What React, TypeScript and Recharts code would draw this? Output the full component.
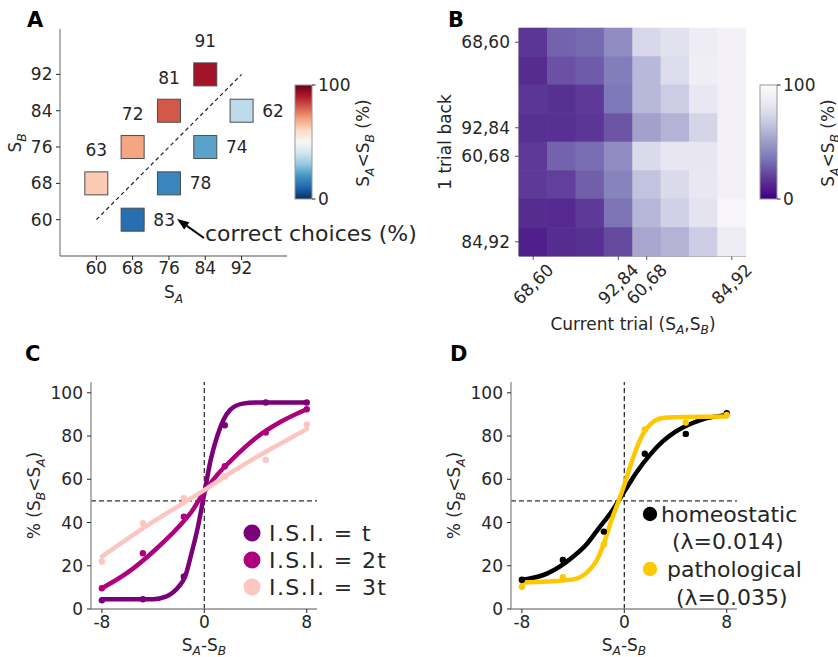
import React from 'react';
import {
  ScatterChart,
  Scatter,
  ComposedChart,
  Line,
  BarChart,
  Bar,
  XAxis,
  YAxis,
  ReferenceLine,
  Legend,
} from 'recharts';

const FONT = '"DejaVu Sans", Verdana, sans-serif';
const INK = '#262626';
const SPINE = '#8c8c8c';

// ---- A: choice per stimulus pair ----
const pairSA = [60, 68, 76, 84, 68, 76, 84, 92];
const pairSB = [68, 76, 84, 92, 60, 68, 76, 84];
const correctPct = [63, 72, 81, 91, 83, 78, 74, 62];
const aLessBPct = [63, 70, 81, 92, 12, 17, 23, 37];
const stimTicks = [60, 68, 76, 84, 92];

// ---- B: current trial vs 1 trial back ----
const pairLabels = ['68,60', '76,68', '84,76', '92,84', '60,68', '68,76', '76,84', '84,92'];
const pairTickIdx = [0, 3, 4, 7];
const back0 = [17, 30, 32, 44, 74, 80, 87, 91];
const back1 = [14, 25, 28, 38, 61, 76, 88, 91];
const back2 = [17, 15, 18, 36, 61, 69, 84, 91];
const back3 = [15, 15, 17, 26, 52, 59, 73, 91];
const back4 = [18, 30, 33, 44, 75, 83, 83, 91];
const back5 = [18, 20, 29, 40, 65, 75, 84, 91];
const back6 = [14, 13, 18, 35, 60, 71, 81, 95];
const back7 = [10, 14, 15, 23, 54, 59, 69, 87];
const backRows = [back0, back1, back2, back3, back4, back5, back6, back7];

// ---- C: inter-stimulus interval ----
const diffX = [-8, -4.8, -1.6, 1.6, 4.8, 8];
const isiNames = ['I.S.I. = t', 'I.S.I. = 2t', 'I.S.I. = 3t'];
const isiT = [4, 4.5, 15, 85, 95.5, 95.5];
const isi2T = [9.6, 25.8, 42.7, 66, 81.6, 92.4];
const isi3T = [22, 39.7, 51.2, 61.3, 69, 85.2];
const fitXT = [-8, -4, -3, -2, -1.5, -1, -0.5, 0, 0.5, 1, 1.5, 2, 3, 4, 8];
const fitYT = [4.5, 4.5, 5.7, 10.3, 15, 25.8, 38, 53.5, 69, 79.8, 87.5, 92, 95, 95.5, 95.5];
const fitX2T = [-8, -6, -4, -2, -1, 0, 1, 2, 4, 6, 8];
const fitY2T = [9.6, 16.8, 26.5, 38, 45, 54.3, 62, 68.2, 79, 86.7, 92.4];
const fitX3T = [-8, -4, -2, 0, 2, 4, 6, 8];
const fitY3T = [24.2, 40.4, 47.7, 55, 62.8, 70, 76.7, 83.2];

// ---- D: homeostatic vs pathological ----
const homeoPts = [13.5, 22.7, 35.8, 71.8, 81, 90.6];
const pathoPts = [10.3, 14.7, 30, 83, 86.3, 89.8];
const fitXHomeo = [-8, -6, -4, -3, -2, -1, 0, 1, 2, 3, 4, 6, 8];
const fitYHomeo = [13.4, 16.5, 24.2, 29.6, 37.3, 45, 54.3, 63.6, 71.3, 77.5, 82, 87.5, 89.8];
const fitXPatho = [-8, -6, -4, -3, -2, -1.5, -1, -0.5, 0, 0.5, 1, 1.5, 2, 3, 4, 8];
const fitYPatho = [12.3, 12.7, 13.7, 16.5, 24.2, 32, 41.2, 49, 57.4, 66.7, 75, 81.3, 85.2, 88.3, 88.7, 89];
const lambdaNames = ['homeostatic', 'pathological'];
const lambdaValues = ['(λ=0.014)', '(λ=0.035)'];

const isiColors = ['#7a0177', '#ae017e', '#fcc5c0'];
const lambdaColors = ['#000000', '#fdc800'];

const RDBU_R = ['#053061', '#2166ac', '#4393c3', '#92c5de', '#d1e5f0', '#f7f7f7', '#fddbc7', '#f4a582', '#d6604d', '#b2182b', '#67001f'];
const PURPLES = ['#fcfbfd', '#efedf5', '#dadaeb', '#bcbddc', '#9e9ac8', '#807dba', '#6a51a3', '#54278f', '#3f007d'];

function lerpHex(a: string, b: string, f: number) {
  const pa = [1, 3, 5].map((i) => parseInt(a.slice(i, i + 2), 16));
  const pb = [1, 3, 5].map((i) => parseInt(b.slice(i, i + 2), 16));
  return '#' + pa.map((v, k) => Math.round(v + (pb[k] - v) * f).toString(16).padStart(2, '0')).join('');
}

function colormap(stops: string[], t: number) {
  const c = Math.min(1, Math.max(0, t)) * (stops.length - 1);
  const i = Math.min(stops.length - 2, Math.floor(c));
  return lerpHex(stops[i], stops[i + 1], c - i);
}

const rdbu = (v: number) => colormap(RDBU_R, v / 100);
const purples = (v: number) => colormap(PURPLES, 1 - v / 100);

// '_X' marks a subscript
function RichText({ x, y, parts, size = 17, rotate = 0, anchor = 'middle' }: any) {
  let low = false;
  const shift = size * 0.28;
  return (
    <text
      x={x}
      y={y}
      textAnchor={anchor}
      fontSize={size}
      fill={INK}
      fontFamily={FONT}
      transform={rotate ? `rotate(${rotate} ${x} ${y})` : undefined}
    >
      {parts.map((p: string, i: number) => {
        const sub = p.startsWith('_');
        let dy = 0;
        if (sub !== low) {
          dy = sub ? shift : -shift;
          low = sub;
        }
        return (
          <tspan key={i} dy={dy} fontSize={sub ? size * 0.72 : size} fontStyle={sub ? 'italic' : 'normal'}>
            {sub ? p.slice(1) : p}
          </tspan>
        );
      })}
    </text>
  );
}

const tickFont = { fontSize: 17, fill: INK, fontFamily: FONT };

function Square(props: any) {
  const { cx, cy, payload } = props;
  const s = 23;
  const above = payload.sb > payload.sa;
  return (
    <g>
      <rect x={cx - s / 2} y={cy - s / 2} width={s} height={s} fill={rdbu(payload.pct)} stroke="#4d4d4d" strokeWidth={1} />
      <text
        x={above ? cx : cx + 31.5}
        y={above ? cy - 33 : cy}
        textAnchor="middle"
        dominantBaseline="central"
        {...tickFont}
      >
        {payload.correct}
      </text>
    </g>
  );
}

function PanelA() {
  const squares = pairSA.map((sa, i) => ({ sa, sb: pairSB[i], correct: correctPct[i], pct: aLessBPct[i] }));
  return (
    <div style={{ position: 'absolute', left: 0, top: 0 }}>
      <ScatterChart width={430} height={320} margin={{ top: 29, right: 143, bottom: 14, left: 0 }}>
        <XAxis
          type="number"
          dataKey="sa"
          domain={[52, 102]}
          ticks={stimTicks}
          interval={0}
          height={50}
          tick={tickFont}
          tickSize={4}
          tickMargin={2}
          tickLine={{ stroke: INK }}
          axisLine={{ stroke: SPINE, strokeWidth: 1.3 }}
          label={{ content: () => <RichText x={173.5} y={298} parts={['S', '_A']} /> }}
        />
        <YAxis
          type="number"
          dataKey="sb"
          domain={[52, 102]}
          ticks={stimTicks}
          interval={0}
          width={60}
          tick={tickFont}
          tickSize={4}
          tickMargin={3.5}
          tickLine={{ stroke: INK }}
          axisLine={{ stroke: SPINE, strokeWidth: 1.3 }}
          label={{ content: () => <RichText x={21} y={143} rotate={-90} parts={['S', '_B']} /> }}
        />
        <ReferenceLine
          segment={[{ x: 60, y: 60 }, { x: 92, y: 92 }]}
          stroke="#222"
          strokeWidth={1.2}
          strokeDasharray="4 3"
        />
        <Scatter data={squares} shape={(p: any) => <Square {...p} />} isAnimationActive={false} />
      </ScatterChart>
    </div>
  );
}

function GradientBar(props: any) {
  const { x, y, width, height, gid, stops } = props;
  return (
    <g>
      <defs>
        <linearGradient id={gid} x1="0" y1="1" x2="0" y2="0">
          {stops.map((c: string, i: number) => (
            <stop key={i} offset={i / (stops.length - 1)} stopColor={c} />
          ))}
        </linearGradient>
      </defs>
      <rect x={x} y={y} width={width} height={height} fill={`url(#${gid})`} stroke="#9a9a9a" strokeWidth={1} />
    </g>
  );
}

function Colorbar({ left, width, gid, stops }: any) {
  return (
    <div style={{ position: 'absolute', left, top: 70 }}>
      <BarChart
        width={width}
        height={150}
        data={[{ k: 'cb', v: 100 }]}
        margin={{ top: 15, right: width - 15 - 17 - 40, bottom: 21, left: 15 }}
        barCategoryGap={0}
      >
        <XAxis dataKey="k" hide />
        <YAxis
          orientation="right"
          type="number"
          domain={[0, 100]}
          ticks={[0, 100]}
          interval={0}
          width={40}
          tick={tickFont}
          tickSize={3.5}
          tickMargin={2.5}
          tickLine={{ stroke: INK }}
          axisLine={false}
          label={{
            content: () => (
              <RichText x={89} y={73} rotate={-90} parts={['S', '_A', '<S', '_B', ' (%)']} />
            ),
          }}
        />
        <Bar
          dataKey="v"
          isAnimationActive={false}
          shape={(p: any) => <GradientBar {...p} gid={gid} stops={stops} />}
        />
      </BarChart>
    </div>
  );
}

function HeatCell(props: any) {
  const { cx, cy, payload } = props;
  const w = 227 / 8 + 0.6;
  const h = 228 / 8 + 0.6;
  return <rect x={cx - w / 2} y={cy - h / 2} width={w} height={h} fill={purples(payload.v)} />;
}

function PairTickX(props: any) {
  const { x, y, payload } = props;
  const cy = y + 22;
  return (
    <text
      x={x}
      y={cy}
      textAnchor="middle"
      dominantBaseline="central"
      transform={`rotate(-45 ${x} ${cy})`}
      {...tickFont}
    >
      {pairLabels[payload.value]}
    </text>
  );
}

function PanelB() {
  const cells = backRows.flatMap((row, r) => row.map((v, c) => ({ col: c, row: r, v })));
  return (
    <div style={{ position: 'absolute', left: 430, top: 0 }}>
      <ScatterChart width={408} height={340} margin={{ top: 28, right: 92, bottom: 0, left: 0 }}>
        <XAxis
          type="number"
          dataKey="col"
          domain={[-0.5, 7.5]}
          ticks={pairTickIdx}
          interval={0}
          height={84}
          tick={(p: any) => <PairTickX {...p} />}
          tickSize={4}
          tickMargin={2}
          tickLine={{ stroke: '#555' }}
          axisLine={{ stroke: SPINE, strokeWidth: 1.3 }}
          label={{
            content: () => <RichText x={203} y={329.5} parts={['Current trial (S', '_A', ',S', '_B', ')']} />,
          }}
        />
        <YAxis
          type="number"
          dataKey="row"
          domain={[-0.5, 7.5]}
          reversed
          ticks={pairTickIdx}
          interval={0}
          width={89}
          tick={tickFont}
          tickFormatter={(i: number) => pairLabels[i]}
          tickSize={4}
          tickMargin={5}
          tickLine={{ stroke: '#555' }}
          axisLine={{ stroke: SPINE, strokeWidth: 1.3 }}
          label={{ content: () => <RichText x={21} y={142} rotate={-90} parts={['1 trial back']} /> }}
        />
        <Scatter data={cells} shape={(p: any) => <HeatCell {...p} />} isAnimationActive={false} />
        <ReferenceLine x={3.5} stroke="#111" strokeWidth={2} />
        <ReferenceLine y={3.5} stroke="#111" strokeWidth={2} />
      </ScatterChart>
    </div>
  );
}

function Dot(props: any) {
  const { cx, cy, color } = props;
  return <circle cx={cx} cy={cy} r={3.2} fill={color} />;
}

function LegendC() {
  return (
    <svg width={185} height={90} style={{ display: 'block' }}>
      {isiNames.map((n, i) => (
        <g key={n}>
          <circle cx={12} cy={16 + i * 27} r={8.5} fill={isiColors[i]} />
          <text
            x={29}
            y={16 + i * 27}
            dominantBaseline="central"
            fontSize={22}
            letterSpacing={1.4}
            fill={INK}
            fontFamily={FONT}
          >
            {n}
          </text>
        </g>
      ))}
    </svg>
  );
}

function LegendD() {
  const rows = [
    { cy: 16, nx: 23, vx: 34, vy: 43 },
    { cy: 71, nx: 29, vx: 38, vy: 99 },
  ];
  return (
    <svg width={200} height={115} style={{ display: 'block' }}>
      {lambdaNames.map((n, i) => (
        <g key={n}>
          <circle cx={12} cy={rows[i].cy} r={7.2} fill={lambdaColors[i]} />
          <text x={rows[i].nx} y={rows[i].cy} dominantBaseline="central" fontSize={22} fill={INK} fontFamily={FONT}>
            {n}
          </text>
          <text x={rows[i].vx} y={rows[i].vy} dominantBaseline="central" fontSize={22} fill={INK} fontFamily={FONT}>
            {lambdaValues[i]}
          </text>
        </g>
      ))}
    </svg>
  );
}

function Psycho({ left, width, right, curves, legend, legendBox }: any) {
  return (
    <div style={{ position: 'absolute', left, top: 330 }}>
      <ComposedChart width={width} height={327} margin={{ top: 52, right, bottom: 0, left: 0 }}>
        <XAxis
          type="number"
          dataKey="x"
          domain={[-8.85, 8.8]}
          ticks={[-8, 0, 8]}
          interval={0}
          height={48}
          tick={tickFont}
          tickSize={4}
          tickMargin={3}
          tickLine={{ stroke: INK }}
          axisLine={{ stroke: SPINE, strokeWidth: 1.3 }}
          label={{ content: () => <RichText x={204} y={650.5 - 330} parts={['S', '_A', '-S', '_B']} /> }}
        />
        <YAxis
          type="number"
          dataKey="y"
          domain={[0, 105]}
          ticks={[0, 20, 40, 60, 80, 100]}
          interval={0}
          width={91}
          tick={tickFont}
          tickSize={4}
          tickMargin={4}
          tickLine={{ stroke: INK }}
          axisLine={{ stroke: SPINE, strokeWidth: 1.3 }}
          label={{
            content: () => (
              <RichText x={40} y={165.5} rotate={-90} parts={['% (S', '_B', '<S', '_A', ')']} />
            ),
          }}
        />
        <ReferenceLine y={50} stroke="#333" strokeWidth={1.3} strokeDasharray="5 3" />
        <ReferenceLine x={0} stroke="#333" strokeWidth={1.3} strokeDasharray="5 3" />
        {curves.map((c: any) => (
          <Scatter
            key={'pts-' + c.name}
            data={diffX.map((x, i) => ({ x, y: c.pts[i] }))}
            shape={(p: any) => <Dot {...p} color={c.color} />}
            isAnimationActive={false}
          />
        ))}
        {curves.map((c: any) => (
          <Line
            key={'fit-' + c.name}
            data={c.fx.map((x: number, i: number) => ({ x, y: c.fy[i] }))}
            dataKey="y"
            type="monotone"
            stroke={c.color}
            strokeWidth={4.5}
            strokeLinecap="round"
            dot={false}
            activeDot={false}
            isAnimationActive={false}
          />
        ))}
        <Legend
          layout="horizontal"
          verticalAlign="middle"
          align="center"
          wrapperStyle={legendBox}
          content={() => legend}
        />
      </ComposedChart>
    </div>
  );
}

export default function App() {
  const isiCurves = [
    { name: 't', color: isiColors[0], pts: isiT, fx: fitXT, fy: fitYT },
    { name: '2t', color: isiColors[1], pts: isi2T, fx: fitX2T, fy: fitY2T },
    { name: '3t', color: isiColors[2], pts: isi3T, fx: fitX3T, fy: fitY3T },
  ];
  const lambdaCurves = [
    { name: 'homeo', color: lambdaColors[0], pts: homeoPts, fx: fitXHomeo, fy: fitYHomeo },
    { name: 'patho', color: lambdaColors[1], pts: pathoPts, fx: fitXPatho, fy: fitYPatho },
  ];
  const arrowTip = [177, 219];
  const arrowTail = [204, 238];
  const dx = arrowTail[0] - arrowTip[0];
  const dy = arrowTail[1] - arrowTip[1];
  const len = Math.hypot(dx, dy);
  const ux = dx / len;
  const uy = dy / len;
  const bx = arrowTip[0] + 12 * ux;
  const by = arrowTip[1] + 12 * uy;
  const head = `${arrowTip[0]},${arrowTip[1]} ${bx - 4.5 * uy},${by + 4.5 * ux} ${bx + 4.5 * uy},${by - 4.5 * ux}`;

  return (
    <div
      style={{
        position: 'absolute',
        left: 0,
        top: 0,
        width: 838,
        height: 657,
        overflow: 'hidden',
        background: '#fff',
        fontFamily: FONT,
      }}
    >
      <PanelA />
      <PanelB />
      <Colorbar left={280} width={110} gid="cbA" stops={RDBU_R} />
      <Colorbar left={745} width={93} gid="cbB" stops={[...PURPLES].reverse()} />
      <Psycho
        left={0}
        width={420}
        right={103}
        curves={isiCurves}
        legend={<LegendC />}
        legendBox={{ left: 240, top: 187, width: 185, height: 90 }}
      />
      <Psycho
        left={420}
        width={418}
        right={101}
        curves={lambdaCurves}
        legend={<LegendD />}
        legendBox={{ left: 218, top: 168, width: 200, height: 115 }}
      />
      <svg width={838} height={657} style={{ position: 'absolute', left: 0, top: 0, pointerEvents: 'none' }}>
        <text x={205} y={241} fontSize={22} fill={INK} fontFamily={FONT}>
          correct choices (%)
        </text>
        <line x1={bx} y1={by} x2={arrowTail[0]} y2={arrowTail[1]} stroke="#000" strokeWidth={2} />
        <polygon points={head} fill="#000" />
        {[
          ['A', 27, 27],
          ['B', 448, 27],
          ['C', 25, 361],
          ['D', 450, 361],
        ].map(([l, x, y]) => (
          <text key={l as string} x={x as number} y={y as number} fontSize={21} fontWeight="bold" fill="#000" fontFamily={FONT}>
            {l}
          </text>
        ))}
      </svg>
    </div>
  );
}
